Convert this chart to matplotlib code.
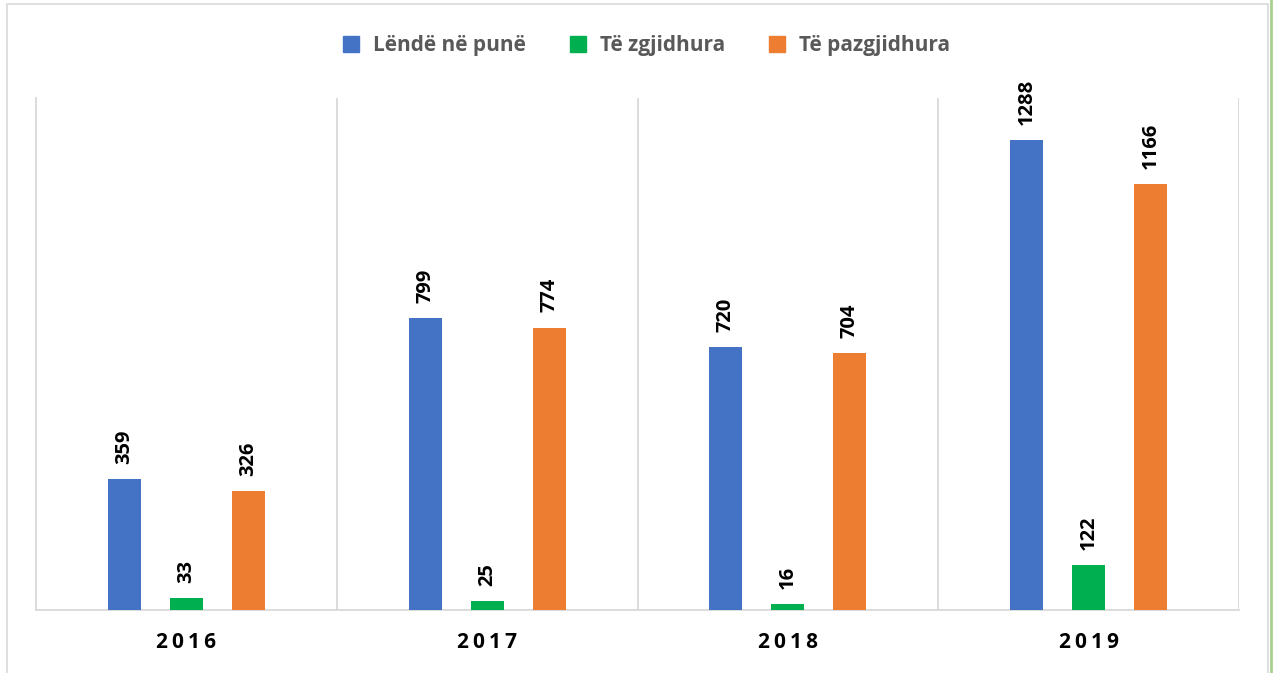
import matplotlib.pyplot as plt
import numpy as np
from matplotlib.patches import Rectangle
from matplotlib.lines import Line2D

plt.rcParams['font.family'] = ['Open Sans', 'DejaVu Sans']

# te dhenat
vitet = ['2016', '2017', '2018', '2019']
lende_ne_pune = [359, 799, 720, 1288]
te_zgjidhura = [33, 25, 16, 122]
te_pazgjidhura = [326, 774, 704, 1166]

seri = [
    ('Lëndë në punë', lende_ne_pune, '#4472C4'),
    ('Të zgjidhura', te_zgjidhura, '#00B050'),
    ('Të pazgjidhura', te_pazgjidhura, '#ED7D31'),
]

fig = plt.figure(figsize=(12.73, 6.73), dpi=100)
ax = fig.add_axes([0.0283, 0.0936, 0.945, 0.7608])

x = np.arange(len(vitet))
w = 0.11
offsets = [-0.206, 0, 0.206]

for (emri, vlerat, ngjyra), off in zip(seri, offsets):
    bars = ax.bar(x + off, vlerat, width=w, color=ngjyra, label=emri, zorder=3)
    for b, v in zip(bars, vlerat):
        ax.annotate(str(v), (b.get_x() + b.get_width() / 2, b.get_height()),
                    xytext=(0, 11), textcoords='offset points',
                    rotation=90, ha='center', va='bottom',
                    fontsize=14.5, fontweight='bold', color='black')

ax.set_xlim(-0.5, 3.5)
ax.set_ylim(0, 1403)
ax.set_yticks([])
ax.set_xticks(x)
ax.set_xticklabels(['\u2009'.join(v) for v in vitet], fontsize=15,
                   fontweight='bold', color='black')
ax.tick_params(axis='x', length=0, pad=16)

for xv in [0.5, 1.5, 2.5, 3.5]:
    ax.axvline(xv, color='#d9d9d9', lw=1.3, zorder=1)

for s in ['top', 'right']:
    ax.spines[s].set_visible(False)
ax.spines['left'].set_color('#d9d9d9')
ax.spines['left'].set_linewidth(1.3)
ax.spines['bottom'].set_color('#d9d9d9')
ax.spines['bottom'].set_linewidth(1.3)

handles = [Line2D([], [], marker='s', linestyle='', markersize=12,
                  markerfacecolor=c, markeredgecolor=c) for _, _, c in seri]
leg = fig.legend(handles, [s[0] for s in seri], loc='center',
                 bbox_to_anchor=(0.503, 0.932), ncol=3, frameon=False,
                 prop={'size': 15, 'weight': 'bold'},
                 handletextpad=0.05, columnspacing=1.5)
for t in leg.get_texts():
    t.set_color('#595959')

# korniza e figures
fig.patches.append(Rectangle((0.0055, -0.01), 0.9906, 1.004, transform=fig.transFigure,
                             fill=False, edgecolor='#d9d9d9', lw=1.2))
fig.lines.append(Line2D([0.9985, 0.9985], [0, 1], transform=fig.transFigure,
                        color='#a9d18e', lw=2))

fig.savefig('out.png', dpi=100)
